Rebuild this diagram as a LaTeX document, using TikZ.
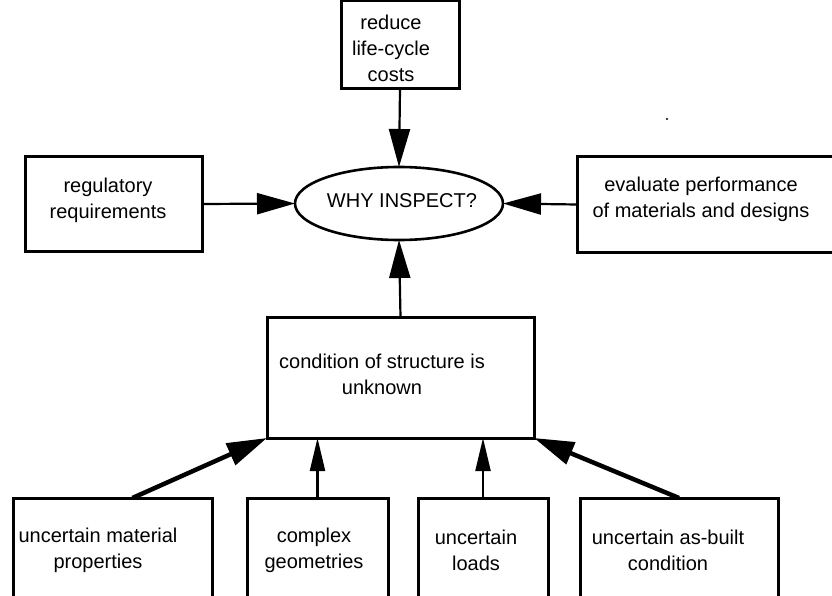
\documentclass[tikz,border=0pt]{standalone}
\usepackage{fontspec}
\setmainfont{Liberation Sans}
\usetikzlibrary{arrows.meta,shapes.geometric,calc}
\begin{document}
\begin{tikzpicture}[x=1pt,y=-1pt,
  box/.style={draw,rectangle,line width=3pt,inner sep=0pt,outer sep=0pt},
  oval/.style={draw,ellipse,line width=2.6pt,inner sep=0pt,outer sep=0pt,minimum width=208pt,minimum height=73pt},
  txt/.style={inner sep=0pt,align=center,font=\fontsize{20}{26}\selectfont},
  arr/.style={line width=2.2pt,-{Triangle[length=38pt,width=21pt]}},
  thickarr/.style={line width=4.5pt,-{Triangle[length=40pt,width=23pt]}},
  smallarr/.style={line width=2.2pt,-{Triangle[length=33pt,width=15pt]}}]
\useasboundingbox (0,0) rectangle (832,596);
% boxes
\node[box,minimum width=118pt,minimum height=88pt] (top) at (400,45) {};
\node[box,minimum width=177pt,minimum height=94pt] (reg) at (113.5,204) {};
\node[box,minimum width=263pt,minimum height=95pt] (eval) at (708.5,204.5) {};
\node[oval] (why) at (399,203.5) {};
\node[box,minimum width=267pt,minimum height=121pt] (cond) at (400.5,377.5) {};
\node[box,minimum width=199pt,minimum height=110pt] (b1) at (112.5,553) {};
\node[box,minimum width=141pt,minimum height=110pt] (b2) at (317.5,553) {};
\node[box,minimum width=130pt,minimum height=110pt] (b3) at (483,553) {};
\node[box,minimum width=198pt,minimum height=110pt] (b4) at (679,553) {};
% texts
\node[txt] (ttop) at (391,48.5) {reduce\\life-cycle\\costs};
\node[txt] (treg) at (108,200.5) {regulatory\\requirements};
\node[txt] (teval) at (701,199.5) {evaluate performance\\of materials and designs};
\node[txt] (twhy) at (402,201) {WHY INSPECT?};
\node[txt] (tcond) at (382,374) {condition of structure is\\unknown};
\node[txt] (tb1) at (98,550) {uncertain material\\properties};
\node[txt] (tb2) at (314,550) {complex\\geometries};
\node[txt] (tb3) at (476,550) {uncertain\\loads};
\node[txt] (tb4) at (668,550) {uncertain as-built\\condition};
% connectors
\draw[arr] (top.south) -- (why.north);
\draw[arr] (reg.east) -- (why.west);
\draw[arr] (eval.west) -- (why.east);
\draw[arr] (cond.north) -- (why.south);
\draw[thickarr] ($(b1.north west)!0.6!(b1.north east)$) -- (cond.south west);
\draw[smallarr] (b2.north) -- (b2.north |- cond.south);
\draw[smallarr] (b3.north) -- (b3.north |- cond.south);
\draw[thickarr] (b4.north) -- (cond.south east);
\fill (667,119) circle (1.2pt);
\end{tikzpicture}
\end{document}
